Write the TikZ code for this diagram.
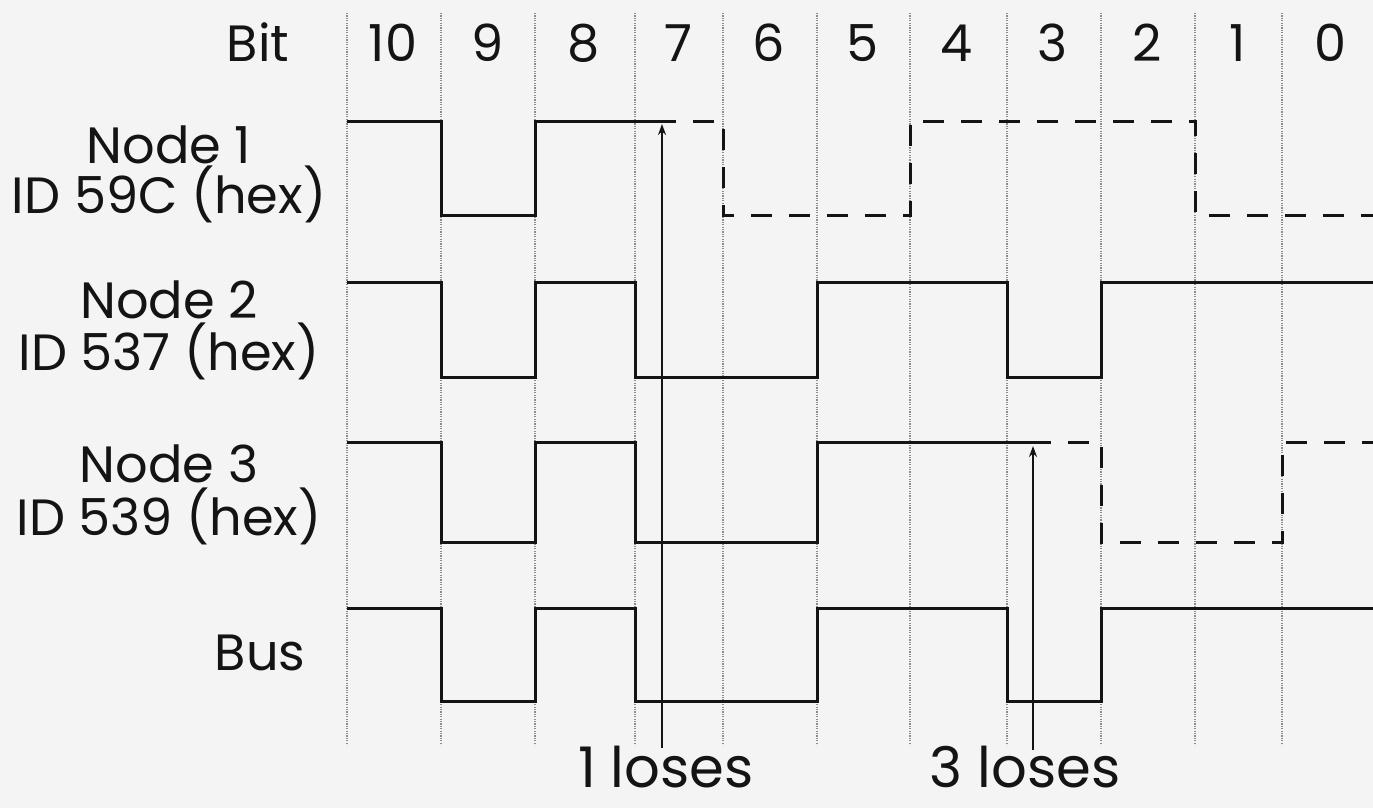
\documentclass[tikz,border=0pt]{standalone}
\usepackage{fontspec}
\setmainfont{Poppins}
\usetikzlibrary{arrows.meta}
\definecolor{paper}{HTML}{F4F4F4}
\definecolor{slotgray}{HTML}{8C8C8C}
\definecolor{ink}{HTML}{141414}

\begin{document}
\begin{tikzpicture}[x=1pt, y=-1pt,
    lbl/.style={font=\fontsize{51}{55}\selectfont, anchor=base, inner sep=0pt, ink},
    loss/.style={lbl, font=\fontsize{56}{58}\selectfont},
    slot/.style={slotgray, line width=2.2pt, dash pattern=on 1.2pt off 1.2pt},
    wave/.style={ink, line width=3pt},
    lost/.style={ink, line width=3pt, dash pattern=on 21pt off 17pt},
    hint/.style={ink, line width=2.2pt, -{Stealth[length=11pt, width=8pt]}}]
  \useasboundingbox[fill=paper] (0,0) rectangle (1373,808);
  % bit slots
  \foreach \x in {347,441,535,635,723,817,910,1007,1101,1195,1282}
    \draw[slot] (\x,13) -- (\x,745);
  \foreach \b/\x in {10/393,9/488,8/584,7/678,6/769,5/863,4/957,3/1053,2/1147,1/1238,0/1330}
    \node[lbl] (bit\b) at (\x,62) {\b};
  % row labels
  \node[lbl] (bitlbl) at (258,62) {Bit};
  \node[lbl] (n1name) at (169,163) {Node 1};
  \node[lbl] (n1id) at (169,213) {ID 59C (hex)};
  \node[lbl] (n2name) at (169,318) {Node 2};
  \node[lbl] (n2id) at (169,370) {ID 537 (hex)};
  \node[lbl] (n3name) at (169,482) {Node 3};
  \node[lbl] (n3id) at (169,535) {ID 539 (hex)};
  \node[lbl] (buslbl) at (260,670) {Bus};
  % waveforms
  \draw[wave] (347,121) -| (441,215) -| (535,121) -- (655,121) coordinate (n1drop);
  \draw[lost] (n1drop) -| (723,215) -| (910,121) -| (1195,215) -- (1373,215);
  \draw[wave] (347,282) -| (441,377) -| (535,282) -| (635,377) -| (817,282) -| (1007,377) -| (1101,282) -- (1373,282);
  \draw[wave] (347,442) -| (441,542) -| (535,442) -| (635,542) -| (817,442) -- (1030,442) coordinate (n3drop);
  \draw[lost] (n3drop) -| (1101,542) -| (1282,442) -- (1373,442);
  \draw[wave] (347,608) -| (441,701) -| (535,608) -| (635,701) -| (817,608) -| (1007,701) -| (1101,608) -- (1373,608);
  % who drops out
  \node[loss] (lose1) at (666,787) {1 loses};
  \node[loss] (lose3) at (1025,787) {3 loses};
  \coordinate (lose1top) at (662,124);
  \coordinate (lose3top) at (1033,446);
  \draw[hint] (662,748) -- (lose1top);
  \draw[hint] (1033,750) -- (lose3top);
\end{tikzpicture}
\end{document}
